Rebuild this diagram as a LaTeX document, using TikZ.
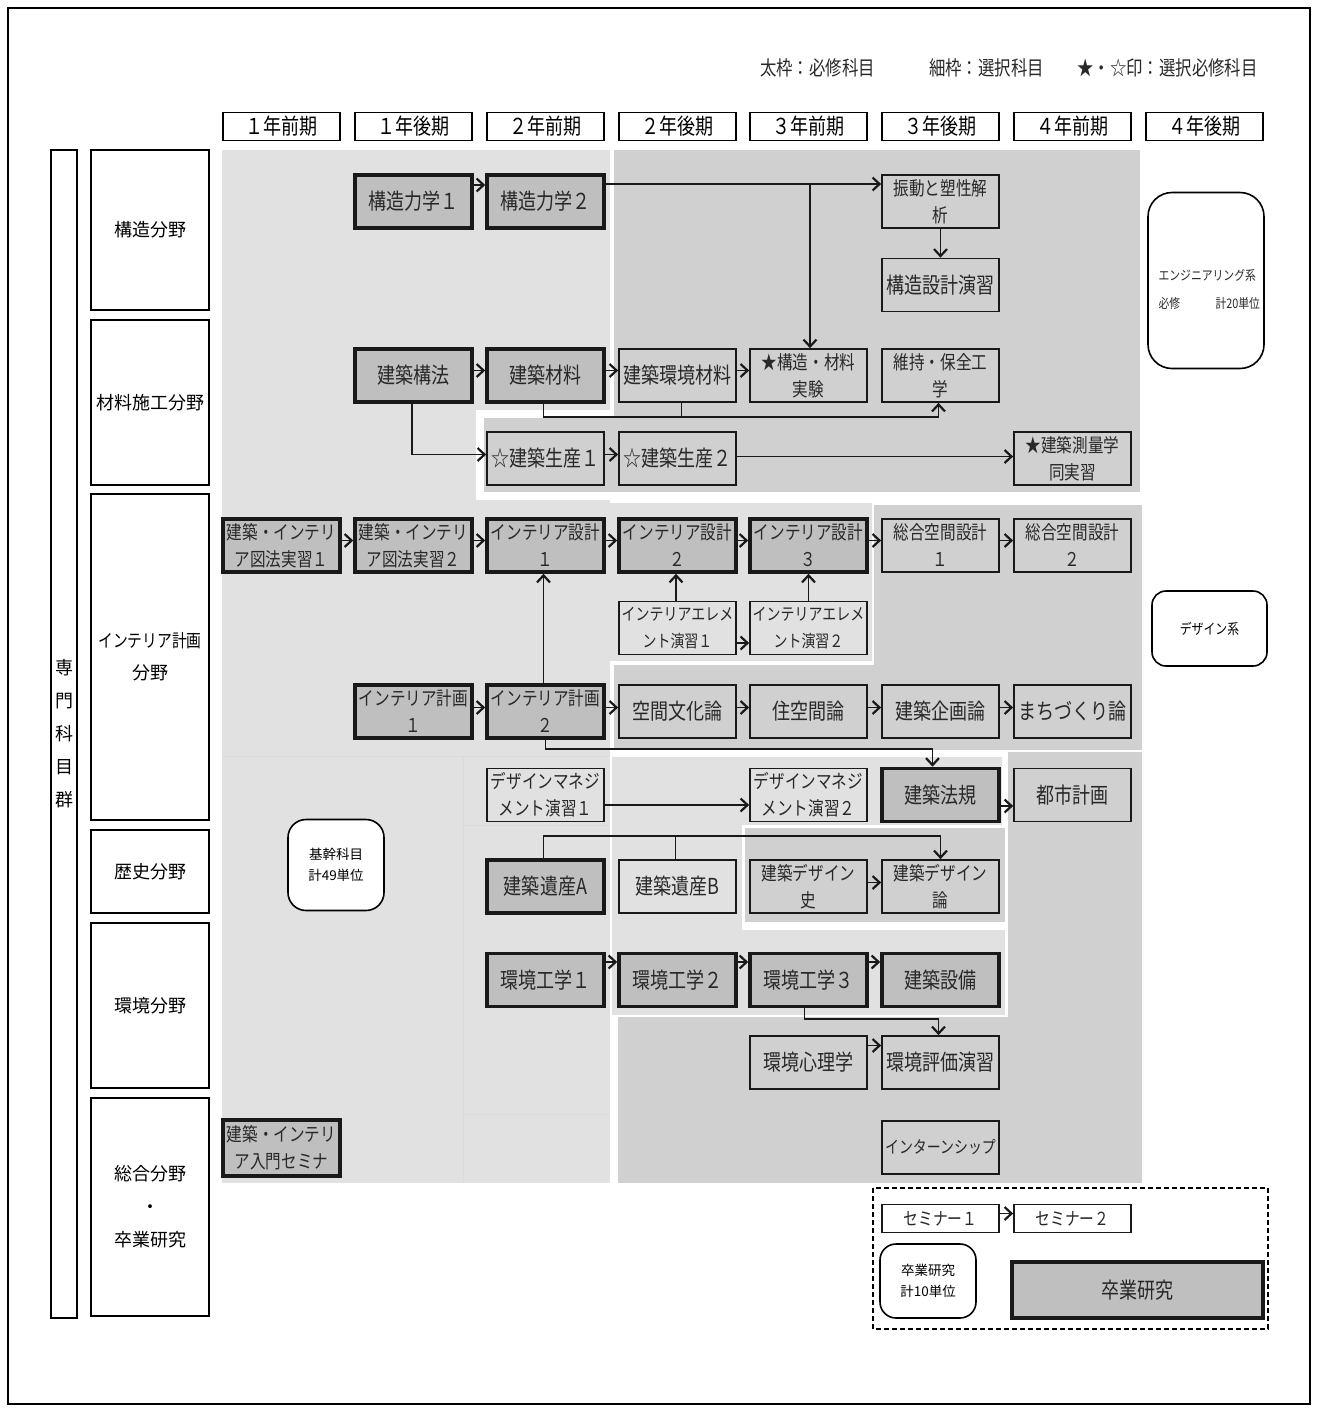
\documentclass[tikz,border=0pt]{standalone}
\usepackage{fontspec}
\setmainfont{Noto Sans CJK JP}
\newfontfamily\jpn{Noto Sans CJK JP}[FakeStretch=0.82]
\usetikzlibrary{arrows.meta}
\definecolor{bgL}{RGB}{225,225,225}
\definecolor{bgD}{RGB}{208,208,208}
\definecolor{boxT}{RGB}{191,191,191}
\definecolor{txt}{RGB}{40,40,40}
\newcommand{\fntB}{\jpn\fontsize{22}{26}\selectfont}
\newcommand{\fntT}{\jpn\fontsize{19}{27}\selectfont}
\newcommand{\fntTs}{\jpn\fontsize{17}{27}\selectfont}
\newcommand{\fntH}{\jpn\fontsize{22}{26}\selectfont}
\newcommand{\fntC}{\fontsize{18}{33}\selectfont}
\newcommand{\fntS}{\fontsize{13.5}{21}\selectfont}
\newcommand{\fntSn}{\jpn\fontsize{14.5}{28}\selectfont}
\newcommand{\fntSe}{\jpn\fontsize{13.2}{28}\selectfont}
\newcommand{\fntL}{\jpn\fontsize{20}{24}\selectfont}
\newcommand{\fntSem}{\jpn\fontsize{18}{22}\selectfont}
\tikzset{
  base/.style={rectangle, minimum width=117pt, minimum height=53pt, inner sep=0pt, text=txt, align=center, font=\fntB},
  thickbox/.style={base, draw=black!90, line width=3.6pt, fill=boxT},
  thinbox/.style={base, draw=black!90, line width=1.7pt},
  two/.style={font=\fntT},
  twos/.style={font=\fntTs},
  hdr/.style={rectangle, draw, line width=1.9pt, minimum width=117pt, minimum height=28pt, inner sep=0pt, font=\fntH, fill=white},
  catbox/.style={rectangle, draw, line width=1.9pt, minimum width=118pt, inner sep=0pt, align=center, font=\fntC, fill=white},
  rbox/.style={rectangle, rounded corners=14pt, draw, line width=1.6pt, fill=white, inner sep=0pt, align=center, font=\fntS},
  conn/.style={line width=1.7pt, draw=black!90},
  arr/.style={conn, -{Straight Barb[length=7pt,width=13pt,line width=2.2pt]}},
  sub/.style={draw=black!14, line width=0.8pt},
}
\begin{document}
\begin{tikzpicture}[x=1pt,y=-1pt]
\useasboundingbox (0,0) rectangle (1318,1409);
\fill[white] (0,0) rectangle (1318,1409);
% backgrounds
\fill[bgL] (222,150) rectangle (610,1183);
\fill[bgD] (614,150) rectangle (1140,492);
\fill[white] (476,410) rectangle (612,500);
\fill[bgD] (484,418) rectangle (614,492);
\fill[bgL] (608,503) rectangle (872,661);
\fill[bgD] (874,505) rectangle (1142,665);
\fill[bgD] (614,665) rectangle (1142,750);
\fill[bgL] (612,757) rectangle (1002,825);
\fill[bgD] (1008,752) rectangle (1142,1183);
\fill[bgL] (612,825) rectangle (742,930);
\fill[bgD] (745,828) rectangle (1005,922);
\fill[bgL] (612,930) rectangle (1005,1015);
\fill[bgD] (618,1017) rectangle (1142,1183);
\draw[sub] (222,756) -- (610,756);
\draw[sub] (463,756) -- (463,1183);
\draw[sub] (463,825) -- (610,825);
\draw[sub] (463,1114) -- (610,1114);

% outer frame
\draw[line width=1.6pt] (8,8) rectangle (1310,1404);

% legend
\node[font=\fntL, text=txt] (lg1) at (817.5,68) {太枠：必修科目};
\node[font=\fntL, text=txt] (lg2) at (986.5,68) {細枠：選択科目};
\node[font=\fntL, text=txt] (lg3) at (1167.5,68) {★・☆印：選択必修科目};

% headers
\node[hdr] (h1) at (281.5,126.5) {１年前期};
\node[hdr] (h2) at (413.5,126.5) {１年後期};
\node[hdr] (h3) at (545.5,126.5) {２年前期};
\node[hdr] (h4) at (677.5,126.5) {２年後期};
\node[hdr] (h5) at (808.5,126.5) {３年前期};
\node[hdr] (h6) at (940.5,126.5) {３年後期};
\node[hdr] (h7) at (1072.5,126.5) {４年前期};
\node[hdr] (h8) at (1204.5,126.5) {４年後期};

% left categories
\node[catbox, minimum width=26pt, minimum height=1168pt] (sen) at (64,734) {専\\門\\科\\目\\群};
\node[catbox, minimum height=160pt] (cat1) at (150,230) {構造分野};
\node[catbox, minimum height=165pt] (cat2) at (150,402.5) {材料施工分野};
\node[catbox, minimum height=326pt, font=\fontsize{18}{32}\selectfont] (cat3) at (150,657) {{\jpn インテリア計画}\\分野};
\node[catbox, minimum height=83pt] (cat4) at (150,871.5) {歴史分野};
\node[catbox, minimum height=165pt] (cat5) at (150,1005.5) {環境分野};
\node[catbox, minimum height=218pt] (cat6) at (150,1207) {総合分野\\・\\卒業研究};

% structure
\node[thickbox] (k1) at (413.5,201.5) {構造力学１};
\node[thickbox] (k2) at (545.5,201.5) {構造力学２};
\node[thinbox, two] (shindo) at (940.5,201.5) {振動と塑性解\\析};
\node[thinbox] (kozo) at (940.5,285) {構造設計演習};
% materials
\node[thickbox] (kouhou) at (413.5,375.5) {建築構法};
\node[thickbox] (zairyo) at (545.5,375.5) {建築材料};
\node[thinbox] (kzai) at (677.5,375.5) {建築環境材料};
\node[thinbox, two] (jikken) at (808.5,375.5) {★構造・材料\\実験};
\node[thinbox, two] (iji) at (940.5,375.5) {維持・保全工\\学};
\node[thinbox] (sei1) at (545.5,458.5) {☆建築生産１};
\node[thinbox] (sei2) at (677.5,458.5) {☆建築生産２};
\node[thinbox, two] (sok) at (1072.5,458.5) {★建築測量学\\同実習};
% interior
\node[thickbox, two] (zu1) at (281.5,545.5) {建築・インテリ\\ア図法実習１};
\node[thickbox, two] (zu2) at (413.5,545.5) {建築・インテリ\\ア図法実習２};
\node[thickbox, two] (is1) at (545.5,545.5) {インテリア設計\\１};
\node[thickbox, two] (is2) at (677.5,545.5) {インテリア設計\\２};
\node[thickbox, two] (is3) at (808.5,545.5) {インテリア設計\\３};
\node[thinbox, two] (so1) at (940.5,545.5) {総合空間設計\\１};
\node[thinbox, two] (so2) at (1072.5,545.5) {総合空間設計\\２};
\node[thinbox, twos] (el1) at (677.5,628) {インテリアエレメ\\ント演習１};
\node[thinbox, twos] (el2) at (808.5,628) {インテリアエレメ\\ント演習２};
\node[thickbox, two] (ik1) at (413.5,711.5) {インテリア計画\\１};
\node[thickbox, two] (ik2) at (545.5,711.5) {インテリア計画\\２};
\node[thinbox] (kuk) at (677.5,711.5) {空間文化論};
\node[thinbox] (jyu) at (808.5,711.5) {住空間論};
\node[thinbox] (kik) at (940.5,711.5) {建築企画論};
\node[thinbox] (mac) at (1072.5,711.5) {まちづくり論};
\node[thinbox, two] (dm1) at (545.5,795) {デザインマネジ\\メント演習１};
\node[thinbox, two] (dm2) at (808.5,795) {デザインマネジ\\メント演習２};
\node[thickbox] (hok) at (940.5,795) {建築法規};
\node[thinbox] (tos) at (1072.5,795) {都市計画};
% history
\node[thickbox] (ia) at (545.5,886.5) {建築遺産A};
\node[thinbox] (ib) at (677.5,886.5) {建築遺産B};
\node[thinbox, two] (dsh) at (808.5,886.5) {建築デザイン\\史};
\node[thinbox, two] (dsr) at (940.5,886.5) {建築デザイン\\論};
% environment
\node[thickbox] (kk1) at (545.5,980) {環境工学１};
\node[thickbox] (kk2) at (677.5,980) {環境工学２};
\node[thickbox] (kk3) at (808.5,980) {環境工学３};
\node[thickbox] (set) at (940.5,980) {建築設備};
\node[thinbox] (shr) at (808.5,1062.5) {環境心理学};
\node[thinbox] (hyo) at (940.5,1062.5) {環境評価演習};
\node[thinbox, font=\jpn\fontsize{17}{20}\selectfont] (intern) at (940.5,1147.5) {インターンシップ};
\node[thickbox, two, minimum height=56pt] (nyu) at (281.5,1148) {建築・インテリ\\ア入門セミナ};

% rounded info boxes
\node[rbox, rounded corners=24pt, minimum width=116pt, minimum height=176pt] (eng) at (1206,280.5) {};
\node[font=\fntSe, anchor=west, text=txt] (engt1) at (1155,275) {エンジニアリング系};
\node[font=\fntSe, anchor=west, text=txt] (engt2) at (1155,303) {必修};
\node[font=\fntSe, anchor=west, text=txt] (engt3) at (1212,303) {計20単位};
\node[rbox, font=\fntSn, minimum width=115pt, minimum height=75pt] (des) at (1209.5,628.5) {デザイン系};
\node[rbox, rounded corners=18pt, minimum width=96pt, minimum height=91pt] (kikan) at (336,865) {基幹科目\\計49単位};

% graduation block
\draw[line width=1.6pt, dash pattern=on 5pt off 3pt] (873,1188) rectangle (1268,1329);
\node[thinbox, fill=white, font=\fntSem, minimum height=28pt] (sem1) at (940.5,1218.5) {セミナー１};
\node[thinbox, fill=white, font=\fntSem, minimum height=28pt] (sem2) at (1072.5,1218.5) {セミナー２};
\node[rbox, rounded corners=16pt, minimum width=96pt, minimum height=74pt] (sotr) at (928,1281) {卒業研究\\計10単位};
\node[thickbox, minimum width=251pt, minimum height=56pt] (sotsu) at (1137.5,1290) {卒業研究};

% connectors: structure
\draw[arr] ([yshift=16.5pt]k1.east) -- ([yshift=16.5pt]k2.west);
\draw[arr] ([yshift=17.5pt]k2.east) -- ([yshift=17.5pt]shindo.west);
\draw[arr] ([yshift=17.5pt]k2.east) -| ([xshift=1.5pt]jikken.north);
\draw[arr] (shindo.south) -- (kozo.north);
% materials
\draw[arr] ([yshift=5pt]kouhou.east) -- ([yshift=5pt]zairyo.west);
\draw[arr] ([yshift=5pt]zairyo.east) -- ([yshift=5pt]kzai.west);
\draw[arr] ([yshift=5pt]kzai.east) -- ([yshift=5pt]jikken.west);
\draw[arr] ([xshift=-2pt]zairyo.south) -- ++(0,13) -| ([xshift=-2pt]iji.south);
\draw[conn] ([xshift=4pt]kzai.south) -- ++(0,14);
\draw[arr] ([xshift=-1.5pt]kouhou.south) |- ([yshift=4pt]sei1.west);
\draw[arr] ([yshift=4pt]sei1.east) -- ([yshift=4pt]sei2.west);
\draw[arr] ([yshift=2pt]sei2.east) -- ([yshift=2pt]sok.west);
% interior
\draw[arr] ([yshift=5pt]zu1.east) -- ([yshift=5pt]zu2.west);
\draw[arr] ([yshift=5pt]zu2.east) -- ([yshift=5pt]is1.west);
\draw[arr] ([yshift=5pt]is1.east) -- ([yshift=5pt]is2.west);
\draw[arr] ([yshift=5pt]is2.east) -- ([yshift=5pt]is3.west);
\draw[arr] ([yshift=5pt]is3.east) -- ([yshift=5pt]so1.west);
\draw[arr] ([yshift=5pt]so1.east) -- ([yshift=5pt]so2.west);
\draw[arr] ([xshift=-1.5pt]el1.north) -- ([xshift=-1.5pt]is2.south);
\draw[arr] (el2.north) -- (is3.south);
\draw[arr] ([yshift=-15pt]el1.east) -- ([yshift=-15pt]el2.west);
\draw[arr] ([xshift=-2pt]ik2.north) -- ([xshift=-2pt]is1.south);
\draw[arr] ([yshift=4pt]ik1.east) -- ([yshift=4pt]ik2.west);
\draw[arr] ([yshift=4pt]ik2.east) -- ([yshift=4pt]kuk.west);
\draw[arr] ([yshift=4pt]kuk.east) -- ([yshift=4pt]jyu.west);
\draw[arr] ([yshift=4pt]jyu.east) -- ([yshift=4pt]kik.west);
\draw[arr] ([yshift=4pt]kik.east) -- ([yshift=4pt]mac.west);
\draw[arr] (ik2.south) -- ++(0,9) -| ([xshift=-8pt]hok.north);
\draw[arr] ([yshift=-10pt]dm1.east) -- ([yshift=-10pt]dm2.west);
\draw[arr] ([yshift=-11pt]hok.east) -- ([yshift=-11pt]tos.west);
% history
\draw[arr] ([xshift=-2pt]ia.north) -- ++(0,-22) -| (dsr.north);
\draw[conn] ([xshift=-2pt]ib.north) -- ++(0,-22);
\draw[arr] ([yshift=4pt]dsh.east) -- ([yshift=4pt]dsr.west);
% environment
\draw[arr] ([yshift=18pt]kk1.east) -- ([yshift=18pt]kk2.west);
\draw[arr] ([yshift=18pt]kk2.east) -- ([yshift=18pt]kk3.west);
\draw[arr] ([yshift=18pt]kk3.east) -- ([yshift=18pt]set.west);
\draw[arr] ([xshift=-4pt]kk3.south) -- ++(0,11) -| ([xshift=-2pt]hyo.north);
\draw[arr] ([yshift=17pt]shr.east) -- ([yshift=17pt]hyo.west);
% seminar
\draw[arr] ([yshift=5pt]sem1.east) -- ([yshift=5pt]sem2.west);
\end{tikzpicture}
\end{document}
